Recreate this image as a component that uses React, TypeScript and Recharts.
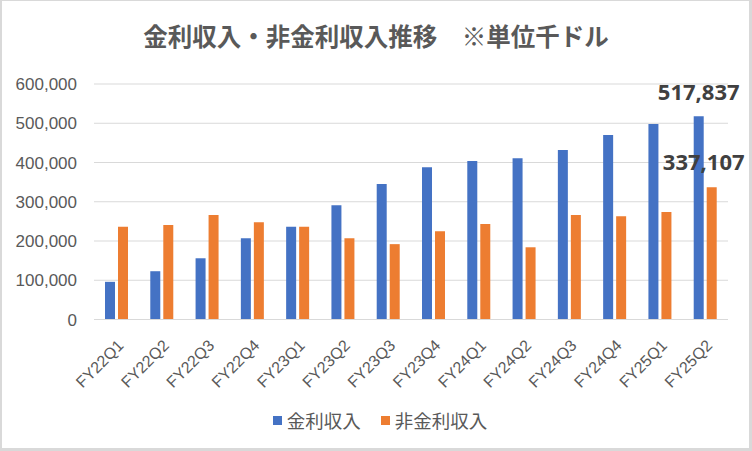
import React from "react";
import { BarChart, Bar, XAxis, YAxis, CartesianGrid, Legend, LabelList } from "recharts";

const categories = ["FY22Q1","FY22Q2","FY22Q3","FY22Q4","FY23Q1","FY23Q2","FY23Q3","FY23Q4","FY24Q1","FY24Q2","FY24Q3","FY24Q4","FY25Q1","FY25Q2"];
const interestIncome = [96000,123000,156000,207000,236000,291000,345000,388000,404000,411000,432000,470000,498000,517837];
const nonInterestIncome = [236000,241000,266000,248000,236000,207000,192000,225000,243000,184000,266000,263000,274000,337107];
const yTicks = [0,100000,200000,300000,400000,500000,600000];
const seriesNames = ["金利収入","非金利収入"];
const colors = ["#4472C4","#ED7D31"];

const data = categories.map((c, i) => ({ name: c, a: interestIncome[i], b: nonInterestIncome[i] }));
const fmt = (v: number) => v.toLocaleString("en-US");

const XTick = (props: any) => {
  const { x, y, payload } = props;
  const ax = x + 8;
  const ay = y + 27;
  return (
    <text x={ax} y={ay} transform={`rotate(-45, ${ax}, ${ay})`} textAnchor="end" fontSize={16} fill="#595959" fontFamily="'Liberation Sans', sans-serif">
      {payload.value}
    </text>
  );
};

const makeLabel = (dx: number, dy: number) => (props: any) => {
  const { x, y, width, index, value } = props;
  if (index !== categories.length - 1) return null;
  return (
    <text x={Number(x) + Number(width) / 2 + dx} y={Number(y) + dy} textAnchor="middle" fontSize={22} fontWeight={700} fill="#404040" fontFamily="'Noto Sans', sans-serif">
      {fmt(Number(value))}
    </text>
  );
};

const LegendContent = () => (
  <div style={{ height: 40, width: 752, display: "flex", justifyContent: "center", alignItems: "flex-start", paddingLeft: 8, boxSizing: "border-box" }}>
    {seriesNames.map((n, i) => (
      <div key={n} style={{ display: "flex", alignItems: "center", height: 18, marginRight: i === 0 ? 20 : 0 }}>
        <span style={{ display: "inline-block", width: 9, height: 9, background: colors[i], marginRight: 5 }} />
        <span style={{ fontSize: 18.5, color: "#595959", fontFamily: "'Noto Sans CJK JP', sans-serif", lineHeight: "18px" }}>{n}</span>
      </div>
    ))}
  </div>
);

export default function App() {
  return (
    <div style={{ position: "absolute", left: 0, top: 0, width: 752, height: 451, background: "#fff" }}>
      <div style={{ position: "absolute", left: 0, top: 0, width: 752, height: 451, borderStyle: "solid", borderColor: "#d9d9d9", borderWidth: "1px 3px 3px 2px", boxSizing: "border-box", pointerEvents: "none", zIndex: 2 }} />
      <div style={{ position: "absolute", left: 0, top: 21, width: 752, textAlign: "center", fontSize: 24.5, lineHeight: "30px", fontWeight: 700, color: "#595959", fontFamily: "'Noto Sans CJK JP', sans-serif", whiteSpace: "pre" }}>
        金利収入・非金利収入推移　※単位千ドル
      </div>
      <BarChart width={752} height={451} data={data} margin={{ top: 84, right: 24, bottom: 0, left: 0 }} barSize={10} barGap={3}>
        <CartesianGrid vertical={false} stroke="#d9d9d9" />
        <XAxis dataKey="name" height={91.5} tick={<XTick />} tickLine={false} tickSize={0} tickMargin={0} axisLine={{ stroke: "#d9d9d9" }} interval={0} />
        <YAxis width={94} domain={[0, 600000]} ticks={yTicks} tickFormatter={fmt} axisLine={false} tickLine={false} tickSize={0} tickMargin={17} tick={{ fontSize: 17, fill: "#595959", fontFamily: "'Liberation Sans', sans-serif" }} />
        <Legend verticalAlign="bottom" wrapperStyle={{ left: 0, width: 752 }} content={<LegendContent />} />
        <Bar dataKey="a" name={seriesNames[0]} fill={colors[0]} isAnimationActive={false}>
          <LabelList dataKey="a" content={makeLabel(0, -16)} />
        </Bar>
        <Bar dataKey="b" name={seriesNames[1]} fill={colors[1]} isAnimationActive={false}>
          <LabelList dataKey="b" content={makeLabel(-8, -17)} />
        </Bar>
      </BarChart>
    </div>
  );
}
